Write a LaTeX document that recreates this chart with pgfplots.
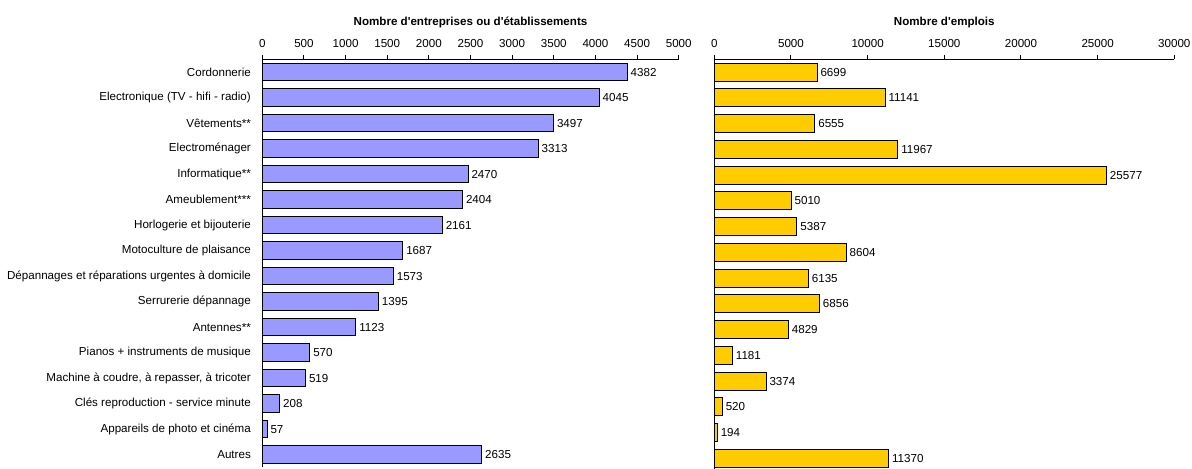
\documentclass[border=0pt]{standalone}
\usepackage{fontspec}
\setmainfont{Liberation Sans}
\usepackage{pgfplots}
\pgfplotsset{compat=1.18}
\definecolor{barblue}{RGB}{153,153,255}
\definecolor{bargold}{RGB}{255,204,0}
\newcommand{\sm}{\fontsize{5.8}{7}\selectfont}
\begin{document}
\begin{tikzpicture}
\useasboundingbox (0,0) rectangle (596pt,-234pt);
\pgfplotsset{
 panel/.style={
  scale only axis, xbar, bar width=0.7, y dir=reverse,
  ymin=-0.5, ymax=15.5, ytick={0,...,15},
  axis x line*=top, axis y line*=left, axis line style={-, line width=0.5pt},
  xmin=0,
  tick align=outside, major tick length=2.2pt, ytick style={draw=none},
  xtick style={line width=0.5pt, black},
  scaled x ticks=false,
  /pgf/number format/assume math mode=true,
  /pgf/number format/1000 sep={},
  tick label style={font=\sm},
  nodes near coords, point meta=x,
  nodes near coords style={font=\sm, anchor=west, inner sep=1.5pt, text=black},
  title style={font=\bfseries\sm, yshift=6pt},
  clip=false,
 }
}
\begin{axis}[panel, at={(131.15pt,-29.65pt)}, anchor=north west,
  width=208.2pt, height=204pt, xmax=5000, xtick={0,500,...,5000},
  title={Nombre d\textquotesingle entreprises ou d\textquotesingle établissements},
  yticklabels={Cordonnerie, Electronique (TV - hifi - radio), Vêtements**, Electroménager, Informatique**, Ameublement***, Horlogerie et bijouterie, Motoculture de plaisance, Dépannages et réparations urgentes à domicile, Serrurerie dépannage, Antennes**, Pianos + instruments de musique, {Machine à coudre, à repasser, à tricoter}, Clés reproduction - service minute, Appareils de photo et cinéma, Autres}]
\addplot[draw=black, fill=barblue, line width=0.5pt] coordinates {(4382,0) (4045,1) (3497,2) (3313,3) (2470,4) (2404,5) (2161,6) (1687,7) (1573,8) (1395,9) (1123,10) (570,11) (519,12) (208,13) (57,14) (2635,15)};
\end{axis}
\begin{axis}[panel, at={(357.15pt,-29.65pt)}, anchor=north west,
  width=230pt, height=206pt, xmax=30000, xtick={0,5000,...,30000},
  title={Nombre d\textquotesingle emplois}, yticklabels={}]
\addplot[draw=black, fill=bargold, line width=0.5pt] coordinates {(6699,0) (11141,1) (6555,2) (11967,3) (25577,4) (5010,5) (5387,6) (8604,7) (6135,8) (6856,9) (4829,10) (1181,11) (3374,12) (520,13) (194,14) (11370,15)};
\end{axis}
\end{tikzpicture}
\end{document}
